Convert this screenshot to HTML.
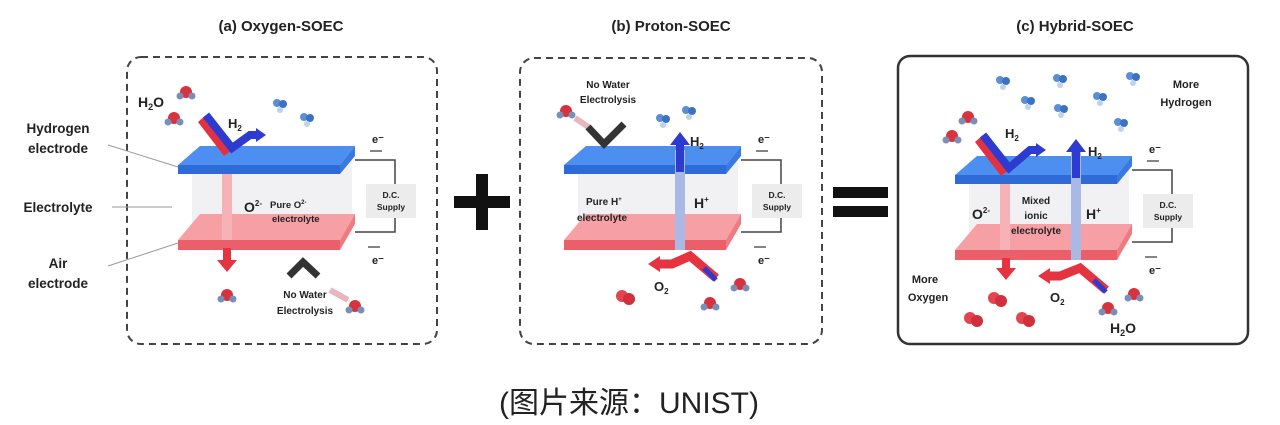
<!DOCTYPE html>
<html><head><meta charset="utf-8"><style>
html,body{margin:0;padding:0;background:#fff;width:1280px;height:425px;overflow:hidden}
svg{display:block}
text{font-family:"Liberation Sans",sans-serif;font-weight:bold;fill:#222}
</style></head><body>
<svg width="1280" height="425" viewBox="0 0 1280 425">
<defs>
<g id="cell">
  <rect x="192" y="150" width="160" height="85" fill="#f1f1f3"/>
  <polygon points="178,165 200,146 355,146 340,165" fill="#4d8ff0"/>
  <rect x="178" y="165" width="162" height="9" fill="#2f6bd8"/>
  <polygon points="340,165 355,146 355,156 340,174" fill="#3a79e0"/>
  <polygon points="178,240 200,214 355,214 340,240" fill="#f6a0a6"/>
  <rect x="178" y="240" width="162" height="10" fill="#ea5f6a"/>
  <polygon points="340,240 355,214 355,224 340,250" fill="#ee7a82"/>
  <polyline points="355,160 395,160 395,184" fill="none" stroke="#444" stroke-width="1.5"/>
  <polyline points="395,218 395,232 355,232" fill="none" stroke="#444" stroke-width="1.5"/>
  <rect x="366" y="184" width="50" height="34" fill="#ececec"/>
  <text x="391" y="198" font-size="8.5" text-anchor="middle" fill="#555">D.C.</text>
  <text x="391" y="210" font-size="8.5" text-anchor="middle" fill="#555">Supply</text>
  <text x="372" y="143" font-size="11">e⁻</text>
  <line x1="370" y1="151" x2="382" y2="151" stroke="#333" stroke-width="1.2"/>
  <text x="372" y="264" font-size="11">e⁻</text>
  <line x1="368" y1="247" x2="380" y2="247" stroke="#333" stroke-width="1.2"/>
</g>
<g id="h2m"><circle cx="0" cy="0" r="4" fill="#5a8fd8"/><circle cx="6" cy="1" r="4" fill="#3c72c4"/><circle cx="3" cy="7" r="3" fill="#bcd3f0"/></g>
<g id="h2o"><circle cx="0" cy="0" r="6" fill="#d7333e"/><circle cx="-6" cy="4" r="3.5" fill="#7a8fb8"/><circle cx="6" cy="4" r="3.5" fill="#7a8fb8"/></g>
<g id="o2m"><circle cx="0" cy="0" r="6" fill="#e24450"/><circle cx="7" cy="3" r="6" fill="#d0303c"/></g>
</defs>

<text x="281" y="31" font-size="15" text-anchor="middle">(a) Oxygen-SOEC</text>
<text x="671" y="31" font-size="15" text-anchor="middle">(b) Proton-SOEC</text>
<text x="1075" y="31" font-size="15" text-anchor="middle">(c) Hybrid-SOEC</text>

<rect x="127" y="57" width="310" height="287" rx="14" fill="none" stroke="#444" stroke-width="2" stroke-dasharray="7,5"/>
<use href="#cell"/>
<text x="58" y="133" font-size="13.5" text-anchor="middle">Hydrogen</text>
<text x="58" y="153" font-size="13.5" text-anchor="middle">electrode</text>
<text x="58" y="212" font-size="13.5" text-anchor="middle">Electrolyte</text>
<text x="58" y="268" font-size="13.5" text-anchor="middle">Air</text>
<text x="58" y="288" font-size="13.5" text-anchor="middle">electrode</text>
<line x1="108" y1="145" x2="178" y2="167" stroke="#999"/>
<line x1="112" y1="207" x2="172" y2="207" stroke="#999"/>
<line x1="108" y1="266" x2="178" y2="243" stroke="#999"/>
<text x="138" y="107" font-size="14">H<tspan font-size="9" dy="3">2</tspan><tspan dy="-3">O</tspan></text>
<use href="#h2o" x="186" y="92"/><use href="#h2o" x="174" y="118"/>
<polygon points="198,122 206,115 232,150 224,156" fill="#e23140"/>
<path d="M206,115 L232,148 L250,135 L258,135" fill="none" stroke="#2e3bd0" stroke-width="8"/>
<polygon points="256,128 266,135 256,142" fill="#2e3bd0"/>
<text x="228" y="128" font-size="13" fill="#2b3da0">H<tspan font-size="8" dy="3">2</tspan></text>
<use href="#h2m" x="277" y="103"/><use href="#h2m" x="304" y="117"/>
<rect x="222" y="174" width="10" height="66" fill="#f6b2b6"/>
<rect x="223" y="248" width="8" height="14" fill="#e53340"/>
<polygon points="217,260 237,260 227,272" fill="#e53340"/>
<use href="#h2o" x="227" y="295"/>
<text x="244" y="212" font-size="14" fill="#d4303c">O<tspan font-size="8" dy="-6">2-</tspan></text>
<text x="270" y="208" font-size="9.5">Pure O<tspan font-size="6" dy="-4">2-</tspan></text>
<text x="272" y="222" font-size="9.5">electrolyte</text>
<path d="M289,276 L303,262 L318,276" fill="none" stroke="#333" stroke-width="7"/>
<line x1="330" y1="290" x2="348" y2="300" stroke="#e7b7c0" stroke-width="6"/>
<use href="#h2o" x="355" y="306"/>
<text x="305" y="298" font-size="10" text-anchor="middle">No Water</text>
<text x="305" y="314" font-size="10" text-anchor="middle">Electrolysis</text>

<rect x="454" y="196" width="56" height="12" fill="#111"/>
<rect x="476" y="174" width="12" height="56" fill="#111"/>

<rect x="520" y="58" width="302" height="286" rx="14" fill="none" stroke="#444" stroke-width="2" stroke-dasharray="7,5"/>
<use href="#cell" x="386" y="0"/>
<text x="608" y="88" font-size="10" text-anchor="middle">No Water</text>
<text x="608" y="103" font-size="10" text-anchor="middle">Electrolysis</text>
<use href="#h2o" x="566" y="111"/>
<line x1="575" y1="118" x2="590" y2="128" stroke="#e7b7c0" stroke-width="6"/>
<path d="M588,127 L604,144 L624,124" fill="none" stroke="#333" stroke-width="7"/>
<use href="#h2m" x="660" y="118"/><use href="#h2m" x="686" y="110"/>
<rect x="675" y="150" width="10" height="100" fill="#aab8e6"/>
<rect x="676" y="142" width="8" height="30" fill="#2e3bd0"/>
<polygon points="670,145 690,145 680,132" fill="#2e3bd0"/>
<text x="690" y="146" font-size="13" fill="#2b3da0">H<tspan font-size="8" dy="3">2</tspan></text>
<text x="694" y="208" font-size="14" fill="#2b3da0">H<tspan font-size="8" dy="-6">+</tspan></text>
<text x="586" y="205" font-size="10">Pure H<tspan font-size="6" dy="-4">+</tspan></text>
<text x="577" y="221" font-size="10">electrolyte</text>
<path d="M716,278 L690,256 L672,264 L658,264" fill="none" stroke="#e53340" stroke-width="9"/>
<polygon points="660,256 648,264 660,272" fill="#e53340"/>
<line x1="704" y1="268" x2="716" y2="280" stroke="#2e3bd0" stroke-width="5"/>
<text x="654" y="291" font-size="13" fill="#c42a36">O<tspan font-size="8" dy="3">2</tspan></text>
<use href="#o2m" x="622" y="296"/>
<use href="#h2o" x="740" y="284"/><use href="#h2o" x="710" y="303"/>

<rect x="833" y="187" width="55" height="11" fill="#111"/>
<rect x="833" y="206" width="55" height="11" fill="#111"/>

<rect x="898" y="56" width="350" height="288" rx="12" fill="none" stroke="#333" stroke-width="2.5"/>
<g transform="translate(777,10)"><use href="#cell"/></g>
<text x="1186" y="88" font-size="11" fill="#3a5fb0" text-anchor="middle">More</text>
<text x="1186" y="106" font-size="11" fill="#3a5fb0" text-anchor="middle">Hydrogen</text>
<use href="#h2m" x="1000" y="80"/><use href="#h2m" x="1057" y="78"/><use href="#h2m" x="1130" y="76"/>
<use href="#h2m" x="1025" y="100"/><use href="#h2m" x="1058" y="108"/><use href="#h2m" x="1097" y="96"/><use href="#h2m" x="1118" y="122"/>
<use href="#h2o" x="968" y="117"/><use href="#h2o" x="952" y="136"/>
<polygon points="975,142 983,135 1009,170 1001,176" fill="#e23140"/>
<path d="M983,135 L1009,168 L1030,150 L1038,150" fill="none" stroke="#2e3bd0" stroke-width="8"/>
<polygon points="1036,143 1046,150 1036,157" fill="#2e3bd0"/>
<text x="1005" y="138" font-size="13" fill="#2b3da0">H<tspan font-size="8" dy="3">2</tspan></text>
<rect x="1000" y="184" width="10" height="66" fill="#f6b2b6"/>
<rect x="1071" y="150" width="10" height="110" fill="#aab8e6"/>
<rect x="1072" y="148" width="8" height="30" fill="#2e3bd0"/>
<polygon points="1066,152 1086,152 1076,139" fill="#2e3bd0"/>
<text x="1088" y="156" font-size="13" fill="#2b3da0">H<tspan font-size="8" dy="3">2</tspan></text>
<text x="1086" y="219" font-size="14" fill="#2b3da0">H<tspan font-size="8" dy="-6">+</tspan></text>
<text x="972" y="219" font-size="14" fill="#d4303c">O<tspan font-size="8" dy="-6">2-</tspan></text>
<text x="1036" y="204" font-size="10" text-anchor="middle">Mixed</text>
<text x="1036" y="219" font-size="10" text-anchor="middle">ionic</text>
<text x="1036" y="234" font-size="10" text-anchor="middle">electrolyte</text>
<rect x="1002" y="258" width="8" height="12" fill="#e53340"/>
<polygon points="996,268 1016,268 1006,280" fill="#e53340"/>
<path d="M1106,290 L1080,268 L1060,276 L1048,276" fill="none" stroke="#e53340" stroke-width="9"/>
<polygon points="1050,268 1038,276 1050,284" fill="#e53340"/>
<line x1="1094" y1="280" x2="1106" y2="292" stroke="#2e3bd0" stroke-width="5"/>
<text x="1050" y="302" font-size="13" fill="#c42a36">O<tspan font-size="8" dy="3">2</tspan></text>
<text x="925" y="283" font-size="11" fill="#c8404a" text-anchor="middle">More</text>
<text x="928" y="301" font-size="11" fill="#c8404a" text-anchor="middle">Oxygen</text>
<use href="#o2m" x="994" y="298"/><use href="#o2m" x="970" y="318"/><use href="#o2m" x="1022" y="318"/>
<use href="#h2o" x="1134" y="294"/><use href="#h2o" x="1108" y="308"/>
<text x="1110" y="333" font-size="14">H<tspan font-size="9" dy="3">2</tspan><tspan dy="-3">O</tspan></text>

<text x="629" y="413" font-size="30" fill="#333" text-anchor="middle" style="font-family:'Liberation Sans','Noto Sans CJK SC',sans-serif;font-weight:normal">(图片来源：UNIST)</text>
</svg>
</body></html>
